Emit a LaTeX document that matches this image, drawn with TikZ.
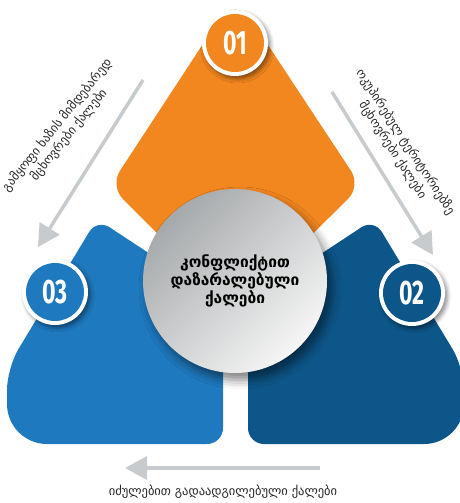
\documentclass[tikz,border=0pt]{standalone}
\usepackage{fontspec}
\usepackage{graphicx}
\setmainfont{DejaVu Sans}
\newfontfamily\numfont{Fira Sans}
\usetikzlibrary{arrows.meta,shadows.blur}
\definecolor{corange}{HTML}{F2861F}
\definecolor{cblue}{HTML}{1E79BF}
\definecolor{cdblue}{HTML}{0D5689}
\definecolor{carrow}{HTML}{C8CBCD}
\definecolor{cgreyA}{HTML}{A6A9AB}
\definecolor{cgreyB}{HTML}{F6F6F6}
\begin{document}
\begin{tikzpicture}[x=1pt,y=-1pt,
  numring/.style={circle, fill=white, minimum size=66pt, inner sep=0pt,
    blur shadow={shadow xshift=2.5pt, shadow yshift=-3pt, shadow blur radius=4pt, shadow opacity=45}},
  numdisc/.style={circle, minimum size=58pt, inner sep=0pt, text=white,
    font=\numfont\bfseries\fontsize{34}{34}\selectfont},
  sidetext/.style={font=\fontsize{12.3}{15}\selectfont, align=center, text=black!85},
  garrow/.style={draw=carrow, line width=3.5pt, -{Triangle[length=22pt,width=23pt]}},
]
\useasboundingbox (0,0) rectangle (459,503);
% blue left shape
\fill[cblue] (115,444) [rounded corners=16pt] -- (223,444) [rounded corners=4pt] -- (223,302)
  [rounded corners=15pt] -- (97,219) [rounded corners=22pt] -- (7,368) [rounded corners=40pt] -- (7,444) [rounded corners=16pt] -- cycle;
% dark blue right shape
\fill[cdblue] (356,444) [rounded corners=16pt] -- (248,444) [rounded corners=4pt] -- (248,302)
  [rounded corners=15pt] -- (374,219) [rounded corners=22pt] -- (464,368) [rounded corners=40pt] -- (464,444) [rounded corners=16pt] -- cycle;
% orange top shape
\fill[corange] (235,311) [rounded corners=18pt] -- (110,186) [rounded corners=30pt] -- (235,-5) [rounded corners=18pt] -- (361,186) [rounded corners=18pt] -- cycle;
% number circles
\node[numring] (r1) at (235,43) {};
\node[numdisc, fill=corange] (n1) at (235,43) {\scalebox{0.68}[1]{01}};
\node[numring] (r2) at (412,293) {};
\node[numdisc, fill=cdblue] (n2) at (412,293) {\scalebox{0.68}[1]{02}};
\node[numring] (r3) at (55,292) {};
\node[numdisc, fill=cblue] (n3) at (55,292) {\scalebox{0.68}[1]{03}};
% centre circle
\node[circle, minimum size=184pt, inner sep=0pt, top color=cgreyA, bottom color=cgreyB, shading angle=45,
  blur shadow={shadow xshift=5pt, shadow yshift=-7pt, shadow blur radius=9pt, shadow opacity=50},
  font=\bfseries\fontsize{15.5}{18}\selectfont, align=center, text=black]
  (c) at (235,281) {კონფლიქტით\\დაზარალებული\\ქალები};
% arrows
\coordinate (la1) at (143,80);
\coordinate (la2) at (38,247);
\coordinate (ra1) at (332,92);
\coordinate (ra2) at (433,255);
\coordinate (ba1) at (320,468);
\coordinate (ba2) at (125,468);
\draw[garrow] (la1) -- (la2);
\draw[garrow] (ra1) -- (ra2);
\draw[garrow] (ba1) -- (ba2);
% texts
\node[sidetext, rotate=51] (lt) at (63,130) {გამყოფი ხაზის მიმდებარედ\\მცხოვრები ქალები};
\node[sidetext, rotate=-57] (rt) at (399,146) {ოკუპირებულ ტერიტორიებზე\\მცხოვრები ქალები};
\node[font=\fontsize{12.5}{14}\selectfont, text=black!85] (bt) at (223,492) {იძულებით გადაადგილებული ქალები};
\end{tikzpicture}
\end{document}
